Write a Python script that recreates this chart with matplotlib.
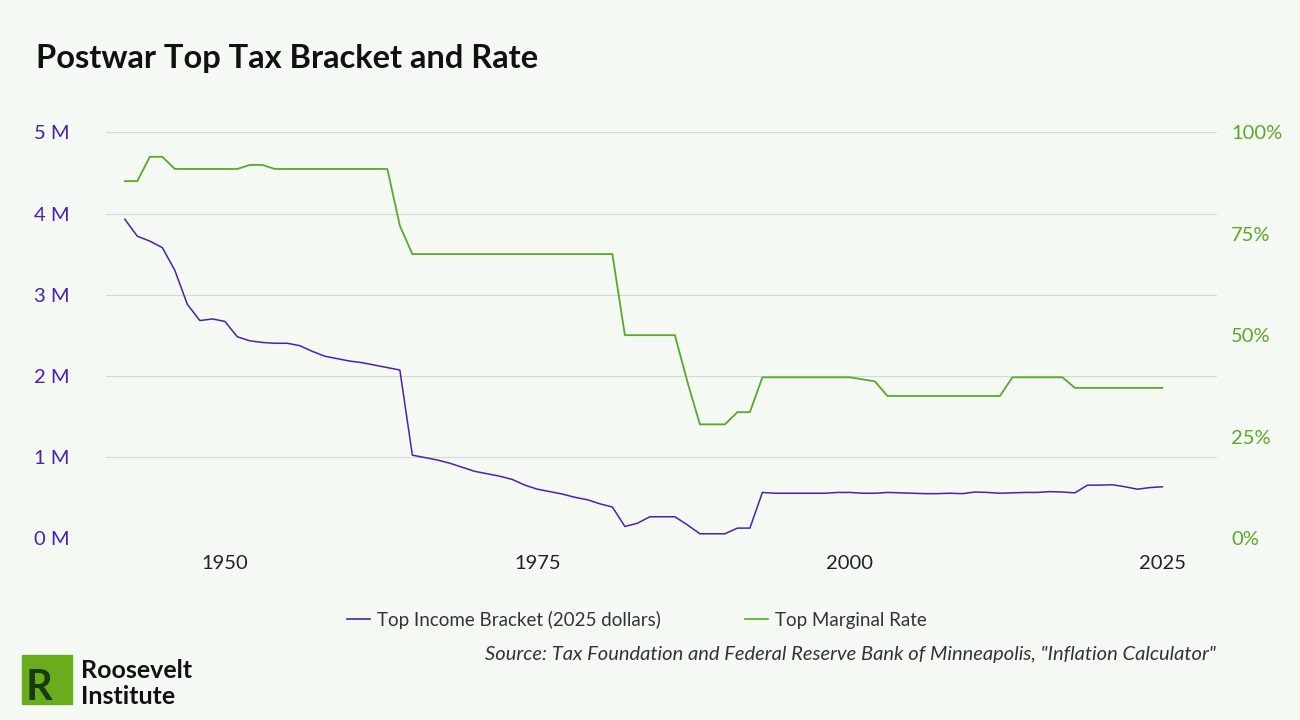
import matplotlib
matplotlib.use("Agg")
import matplotlib.pyplot as plt
from matplotlib.ticker import FuncFormatter
from matplotlib.patches import Rectangle

plt.rcParams['font.family'] = ['Lato', 'DejaVu Sans']

years = list(range(1942, 2026))
bracket_m = [3.93, 3.72, 3.66, 3.58, 3.30, 2.88, 2.68, 2.70, 2.67, 2.48,
             2.43, 2.41, 2.40, 2.40, 2.37, 2.30, 2.24, 2.21, 2.18, 2.16,
             2.13, 2.10, 2.07, 1.02, 0.99, 0.96, 0.92, 0.87, 0.82, 0.79,
             0.76, 0.72, 0.65, 0.60, 0.57, 0.54, 0.50, 0.47, 0.42, 0.38,
             0.14, 0.18, 0.26, 0.26, 0.26, 0.16, 0.05, 0.05, 0.05, 0.12,
             0.12, 0.56, 0.55, 0.55, 0.55, 0.55, 0.55, 0.56, 0.56, 0.55,
             0.55, 0.56, 0.555, 0.55, 0.545, 0.545, 0.55, 0.545, 0.565, 0.56,
             0.55, 0.555, 0.56, 0.56, 0.57, 0.565, 0.555, 0.65, 0.65, 0.655,
             0.63, 0.60, 0.62, 0.63]
rate_pct = [88, 88, 94, 94, 91, 91, 91, 91, 91, 91,
            92, 92, 91, 91, 91, 91, 91, 91, 91, 91,
            91, 91, 77, 70, 70, 70, 70, 70, 70, 70,
            70, 70, 70, 70, 70, 70, 70, 70, 70, 70,
            50, 50, 50, 50, 50, 38.5, 28, 28, 28, 31,
            31, 39.6, 39.6, 39.6, 39.6, 39.6, 39.6, 39.6, 39.6, 39.1,
            38.6, 35, 35, 35, 35, 35, 35, 35, 35, 35,
            35, 39.6, 39.6, 39.6, 39.6, 39.6, 37, 37, 37, 37,
            37, 37, 37, 37]

BG = "#f5f9f3"
PURPLE = "#4b1fb5"
GREEN = "#5aa82a"

fig = plt.figure(figsize=(13, 7.2), dpi=100, facecolor=BG)
ax = fig.add_axes([0.0815, 0.253, 0.855, 0.563], facecolor=BG)
ax2 = ax.twinx()
ax.plot(years, bracket_m, color=PURPLE, lw=1.1)
ax2.plot(years, rate_pct, color=GREEN, lw=1.3)
ax.set_ylim(0, 5)
ax2.set_ylim(0, 100)
ax.set_xlim(1940.49, 2029.4)
ax.set_yticks([0, 1, 2, 3, 4, 5])
ax.yaxis.set_major_formatter(FuncFormatter(lambda v, p: f"{int(v)} M"))
ax2.set_yticks([0, 25, 50, 75, 100])
ax2.yaxis.set_major_formatter(FuncFormatter(lambda v, p: f"{int(v)}%"))
ax.set_xticks([1950, 1975, 2000, 2025])
ax.grid(axis="y", color="#d5d9d3", lw=0.8)
for a in (ax, ax2):
    for s in a.spines.values():
        s.set_visible(False)
    a.tick_params(length=0, labelsize=14.5)
ax.tick_params(axis="y", colors=PURPLE, pad=26)
ax.tick_params(axis="x", colors="#222222", pad=12)
ax2.tick_params(axis="y", colors=GREEN, pad=10)

fig.text(0.028, 0.905, "Postwar Top Tax Bracket and Rate", fontsize=23.5, fontweight="bold", color="#111111")
fig.legend(handles=[plt.Line2D([], [], color=PURPLE, lw=1.2), plt.Line2D([], [], color=GREEN, lw=1.2)],
           labels=["Top Income Bracket (2025 dollars)", "Top Marginal Rate"],
           loc="center", bbox_to_anchor=(0.49, 0.139), ncol=2, frameon=False, fontsize=13.5,
           handlelength=1.2, columnspacing=4.5, handletextpad=0.4, labelcolor="#333333")
fig.text(0.935, 0.083, "Source: Tax Foundation and Federal Reserve Bank of Minneapolis, \"Inflation Calculator\"",
         ha="right", fontsize=14.5, style="italic", color="#333333")
fig.patches.append(Rectangle((0.017, 0.022), 0.038, 0.068, transform=fig.transFigure, color="#6aad1c"))
fig.text(0.02, 0.028, "R", fontsize=30, fontweight="bold", color="#1a3a10")
fig.text(0.062, 0.058, "Roosevelt", fontsize=18, fontweight="bold", color="#111111")
fig.text(0.062, 0.022, "Institute", fontsize=18, fontweight="bold", color="#111111")
fig.savefig("out.png", facecolor=BG)
